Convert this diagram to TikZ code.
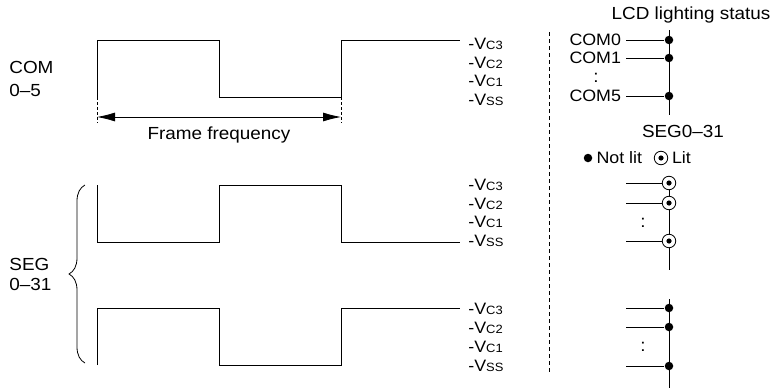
\documentclass[tikz,border=0pt]{standalone}
\usepackage{fontspec}
\setmainfont{Liberation Sans}[FakeStretch=1.08]
\usetikzlibrary{positioning,arrows.meta,calc,decorations.pathreplacing}
\newcommand{\vlev}[1]{-V{\fontsize{12}{12}\selectfont #1}}
\tikzset{
    txt/.style = {
        font=\fontsize{17.5}{20}\selectfont,
        inner sep=0pt
    },
    vlabel/.style = {
        font=\fontsize{16.5}{18}\selectfont,
        inner sep=0pt,
        anchor=west
    },
    comrow/.style = {
        font=\fontsize{16.5}{18}\selectfont,
        inner sep=0pt,
        outer xsep=5pt,
        anchor=east
    },
    notlit/.style = {
        shape=circle,
        fill,
        inner sep=0pt,
        minimum size=8.5pt
    },
    lit/.style = {
        draw,
        shape=circle,
        fill=white,
        inner sep=0pt,
        minimum size=13.5pt,
        path picture={\fill[black] (path picture bounding box.center) circle (2.6pt);}
    },
    wave/.style = {
        line width=0.9pt
    },
    >={Latex[length=18pt,width=9pt]},
}

\begin{document}
\begin{tikzpicture}[x=1pt, y=-1pt, line width=0.8pt]
    \useasboundingbox (0,0) rectangle (772,391);

    % left side: waveforms
    \node[txt, align=left, anchor=west, font=\fontsize{17.5}{23}\selectfont] (comlabel) at (9,79) {COM\\0--5};
    \node[txt, align=left, anchor=west] (seglabel) at (9,274) {SEG\\0--31};

    \draw[wave] (97,97) coordinate (cl) -- (97,40) -- (219,40) -- (219,97) -- (341,97) coordinate (cr) -- (341,40) -- (460,40);
    \draw[wave] (97,185) -- (97,242) -- (219,242) -- (219,185) -- (341,185) -- (341,242) -- (460,242);
    \draw[wave] (97,365) -- (97,308) -- (219,308) -- (219,365) -- (341,365) -- (341,308) -- (460,308);

    \coordinate (clb) at (97,123);
    \coordinate (crb) at (341,123);
    \path[draw, dash pattern=on 3pt off 2pt] (cl) -- (clb);
    \path[draw, dash pattern=on 3pt off 2pt] (cr) -- (crb);
    \coordinate (fl) at (97,117);
    \coordinate (fr) at (341,117);
    \path[draw, <->] (fl) -- (fr);
    \node[txt, anchor=base] (frame) at (219,139.5) {Frame frequency};

    \coordinate (braceb) at (85,363);
    \coordinate (bracet) at (85,185);
    \draw[decorate, decoration={brace, amplitude=16pt}] (braceb) -- (bracet);

    % voltage levels
    \node[vlabel] (c3) at (468,44) {\vlev{C3}};
    \node[vlabel] (c2) at (468,62.5) {\vlev{C2}};
    \node[vlabel] (c1) at (468,81) {\vlev{C1}};
    \node[vlabel] (c0) at (468,99.5) {\vlev{SS}};

    \node[vlabel] (p3) at (468,185) {\vlev{C3}};
    \node[vlabel] (p2) at (468,203.7) {\vlev{C2}};
    \node[vlabel] (p1) at (468,222.3) {\vlev{C1}};
    \node[vlabel] (p0) at (468,241) {\vlev{SS}};

    \node[vlabel] (q3) at (468,309) {\vlev{C3}};
    \node[vlabel] (q2) at (468,328) {\vlev{C2}};
    \node[vlabel] (q1) at (468,347) {\vlev{C1}};
    \node[vlabel] (q0) at (468,366) {\vlev{SS}};

    \coordinate (dtop) at (549,32);
    \coordinate (dbot) at (549,372);
    \path[draw, dash pattern=on 4pt off 3pt] (dtop) -- (dbot);

    % right side: lighting status
    \node[txt, anchor=base] (lcd) at (691,19.5) {LCD lighting status};
    \coordinate (ctop) at (669,30);
    \coordinate (cbot) at (669,115);
    \path[draw] (ctop) -- (cbot);
    \node[notlit] (d0) at (669,40) {};
    \node[notlit] (d1) at (669,58) {};
    \node[notlit] (d5) at (669,96) {};
    \node[comrow] (com0) at (626,40) {COM0};
    \node[comrow] (com1) at (626,58) {COM1};
    \node[comrow] (com5) at (626,96) {COM5};
    \node[txt] (comdots) at (596,78) {:};
    \path[draw] (com0) -- (d0);
    \path[draw] (com1) -- (d1);
    \path[draw] (com5) -- (d5);

    \node[txt] (seg) at (683,131) {SEG0--31};
    \node[notlit] (nl) at (588,158) {};
    \node[txt, font=\fontsize{16.5}{18}\selectfont, right=3.5pt of nl] (nltext) {Not lit};
    \node[lit] (li) at (661,158) {};
    \node[txt, font=\fontsize{16.5}{18}\selectfont, right=3.5pt of li] (litext) {Lit};

    \coordinate (s1top) at (669,176);
    \coordinate (s1bot) at (669,270);
    \path[draw] (s1top) -- (s1bot);
    \node[lit] (a3) at (669,183) {};
    \node[lit] (a2) at (669,203) {};
    \node[lit] (a0) at (669,241) {};
    \coordinate (a3s) at (626,183);
    \coordinate (a2s) at (626,203);
    \coordinate (a0s) at (626,241);
    \path[draw] (a3s) -- (a3);
    \path[draw] (a2s) -- (a2);
    \path[draw] (a0s) -- (a0);
    \node[txt] (adots) at (643,223) {:};

    \coordinate (s2top) at (669,299);
    \coordinate (s2bot) at (669,388);
    \path[draw] (s2top) -- (s2bot);
    \node[notlit] (b3) at (669,308) {};
    \node[notlit] (b2) at (669,327) {};
    \node[notlit] (b0) at (669,366) {};
    \coordinate (b3s) at (626,308);
    \coordinate (b2s) at (626,327);
    \coordinate (b0s) at (626,366);
    \path[draw] (b3s) -- (b3);
    \path[draw] (b2s) -- (b2);
    \path[draw] (b0s) -- (b0);
    \node[txt] (bdots) at (643,347) {:};
\end{tikzpicture}
\end{document}
